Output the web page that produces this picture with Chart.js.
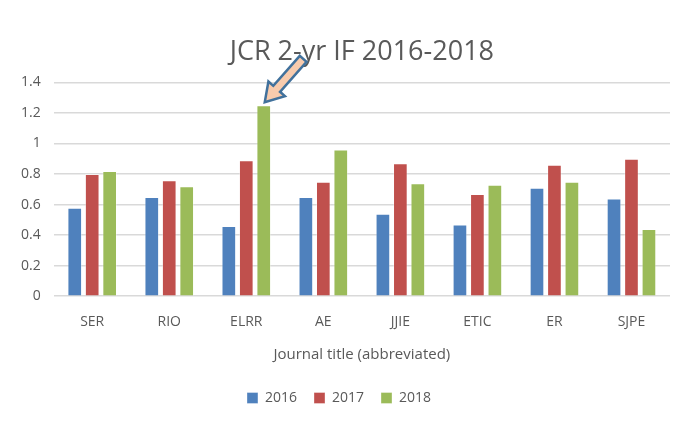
<!DOCTYPE html>
<html lang="en">
  <head>
    <meta charset="UTF-8" />
    <title>JCR 2-yr IF 2016-2018</title>
    <style>
      html, body { margin: 0; padding: 0; background: #fff; }
      .wrap { width: 681px; height: 421px; }
    </style>
  </head>
  <body>
    <div class="wrap"><canvas id="ifChart"></canvas></div>

    <script src="https://cdn.jsdelivr.net/npm/chart.js"></script>
    <script>
      // journals (abbreviated) and impact factor per year
      const journals = ["SER", "RIO", "ELRR", "AE", "JJIE", "ETIC", "ER", "SJPE"];
      const if2016 = [0.58, 0.65, 0.46, 0.65, 0.54, 0.47, 0.71, 0.64];
      const if2017 = [0.80, 0.76, 0.89, 0.75, 0.87, 0.67, 0.86, 0.90];
      const if2018 = [0.82, 0.72, 1.25, 0.96, 0.74, 0.73, 0.75, 0.44];
      const yearLabels = ["2016", "2017", "2018"];

      const font = "'Open Sans', 'Liberation Sans', sans-serif";
      const grey = "#595959";

      // arrow pointing at the ELRR 2018 bar
      const arrowPlugin = {
        id: "arrow",
        afterDatasetsDraw(chart) {
          const bar = chart.getDatasetMeta(2).data[2];
          if (!bar) return;
          const ctx = chart.ctx;
          const tipX = bar.x + 1, tipY = bar.y - 3;
          const ang = Math.atan2(-43, 38);
          const len = 58, headLen = 18, headW = 11, shaftW = 4.5;
          ctx.save();
          ctx.translate(tipX, tipY);
          ctx.rotate(ang);
          ctx.beginPath();
          ctx.moveTo(0, 0);
          ctx.lineTo(headLen, -headW);
          ctx.lineTo(headLen, -shaftW);
          ctx.lineTo(len, -shaftW);
          ctx.lineTo(len, shaftW);
          ctx.lineTo(headLen, shaftW);
          ctx.lineTo(headLen, headW);
          ctx.closePath();
          ctx.fillStyle = "#F8CBAD";
          ctx.fill();
          ctx.lineWidth = 2.5;
          ctx.strokeStyle = "#41719C";
          ctx.lineJoin = "miter";
          ctx.stroke();
          ctx.restore();
        },
      };

      const ctx = document.getElementById("ifChart").getContext("2d");
      new Chart(ctx, {
        type: "bar",
        data: {
          labels: journals,
          datasets: [
            { label: yearLabels[0], data: if2016, backgroundColor: "#4F81BD" },
            { label: yearLabels[1], data: if2017, backgroundColor: "#C0504D" },
            { label: yearLabels[2], data: if2018, backgroundColor: "#9BBB59" },
          ],
        },
        options: {
          responsive: true,
          maintainAspectRatio: false,
          animation: false,
          datasets: {
            bar: {
              categoryPercentage: 0.68,
              barPercentage: 0.84,
              borderWidth: 1,
              borderColor: "rgba(255,255,255,0.35)",
            },
          },
          layout: { padding: { top: 36, right: 11, left: 8, bottom: 6 } },
          plugins: {
            title: {
              display: true,
              fullSize: false,
              text: "JCR 2-yr IF 2016-2018",
              color: grey,
              font: { family: font, size: 27, weight: "normal" },
              padding: { top: 0, bottom: 14 },
            },
            legend: {
              position: "bottom",
              labels: {
                color: grey,
                font: { family: font, size: 14 },
                boxWidth: 11,
                boxHeight: 11,
                padding: 17,
              },
            },
            tooltip: { enabled: false },
          },
          scales: {
            x: {
              grid: { display: false },
              border: { display: false },
              ticks: { color: grey, font: { family: font, size: 14 }, padding: 9 },
              title: {
                display: true,
                text: "Journal title (abbreviated)",
                color: grey,
                font: { family: font, size: 15 },
                padding: { top: 7, bottom: 10 },
              },
            },
            y: {
              min: 0,
              max: 1.4,
              ticks: {
                stepSize: 0.2,
                color: grey,
                font: { family: font, size: 14 },
                padding: 13,
                callback: (v) => String(+v.toFixed(1)),
              },
              grid: { color: "#D9D9D9", lineWidth: 1.5, drawTicks: false },
              border: { display: false },
            },
          },
        },
        plugins: [arrowPlugin],
      });
    </script>
  </body>
</html>
